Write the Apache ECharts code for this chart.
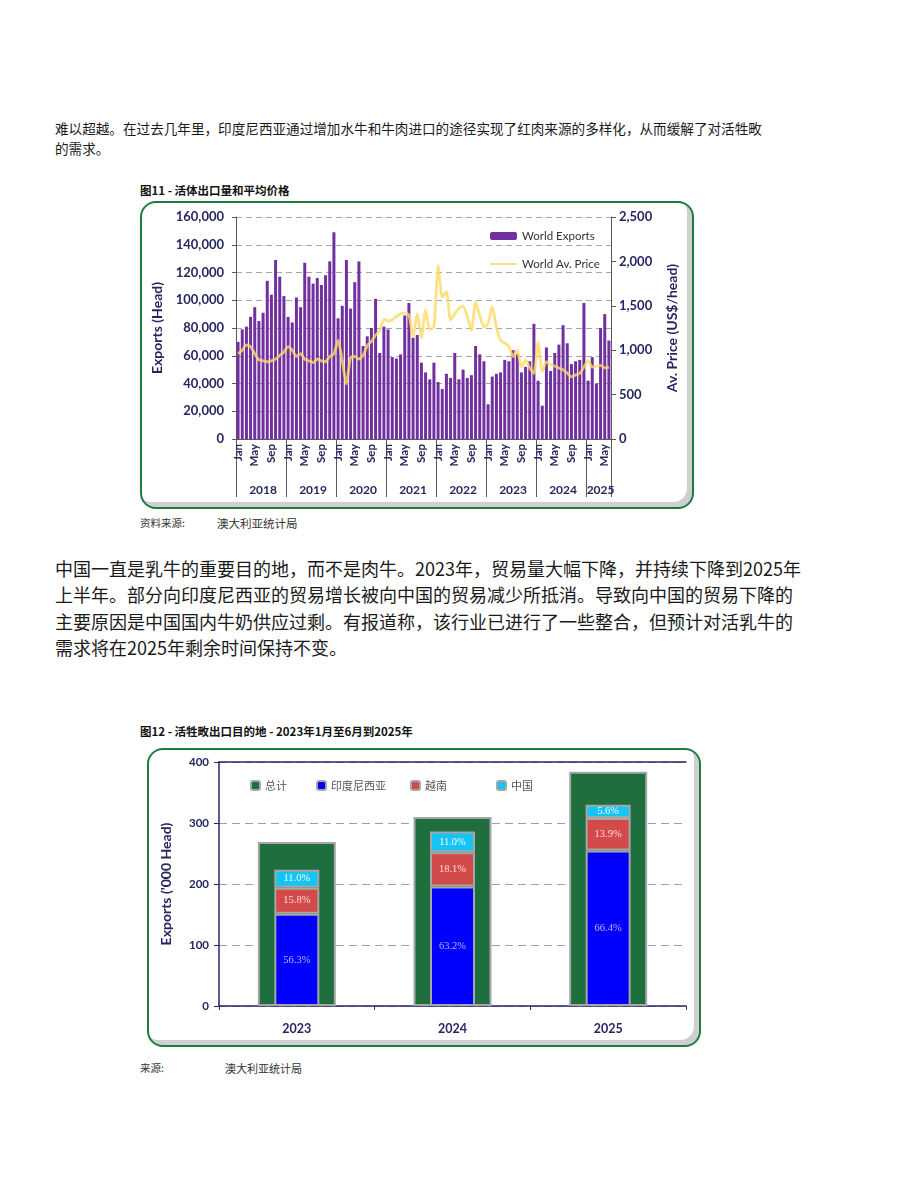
<!DOCTYPE html>
<html>
<head>
<meta charset="utf-8">
<script src="https://cdn.jsdelivr.net/npm/echarts@6/dist/echarts.min.js"></script>
<style>
  body { margin: 0; background: #fff; width: 920px; height: 1191px; position: relative; font-family: "Noto Sans CJK SC", sans-serif; color: #1a1a1a; }
  .abs { position: absolute; white-space: nowrap; }
  .p1 { font-size: 13.6px; line-height: 20px; }
  .p2 { font-size: 18px; line-height: 26.3px; }
  .ttl { font-size: 11.5px; font-weight: bold; color: #111; }
  .src { font-size: 10.5px; color: #333; }
  .box { position: absolute; box-sizing: border-box; border: 2px solid #1f7a3f; border-radius: 16px;
         box-shadow: inset -5px -5px 0 #cfcfcf; background: #fff; }
  .box > div { position: absolute; left: 0; top: 0; width: 100%; height: 100%; }
</style>
</head>
<body>
<div class="abs p1" style="left:55px;top:118px;">难以超越。在过去几年里，印度尼西亚通过增加水牛和牛肉进口的途径实现了红肉来源的多样化，从而缓解了对活牲畋<br>的需求。</div>

<div class="abs ttl" style="left:140px;top:182px;">图11 - 活体出口量和平均价格</div>
<div class="box" style="left:140px;top:201px;width:554px;height:308px;"><div id="chart1"></div></div>
<div class="abs src" style="left:140px;top:515px;">资料来源:</div>
<div class="abs src" style="left:217px;top:515px;font-size:11.5px;">澳大利亚统计局</div>

<div class="abs p2" style="left:55px;top:555px;">中国一直是乳牛的重要目的地，而不是肉牛。2023年，贸易量大幅下降，并持续下降到2025年<br>上半年。部分向印度尼西亚的贸易增长被向中国的贸易减少所抵消。导致向中国的贸易下降的<br>主要原因是中国国内牛奶供应过剩。有报道称，该行业已进行了一些整合，但预计对活乳牛的<br>需求将在2025年剩余时间保持不变。</div>

<div class="abs ttl" style="left:140px;top:723px;">图12 - 活牲畋出口目的地 - 2023年1月至6月到2025年</div>
<div class="box" style="left:147px;top:748px;width:554px;height:299px;"><div id="chart2"></div></div>
<div class="abs src" style="left:140px;top:1060px;">来源:</div>
<div class="abs src" style="left:225px;top:1060px;font-size:11px;">澳大利亚统计局</div>

<script>
// ---- 图11 data ----
var years = ['2018', '2019', '2020', '2021', '2022', '2023', '2024', '2025'];
var monthNames = ['Jan', 'Feb', 'Mar', 'Apr', 'May', 'Jun', 'Jul', 'Aug', 'Sep', 'Oct', 'Nov', 'Dec'];

var exp2018 = [70000, 79000, 81000, 88000, 95000, 85000, 91000, 114000, 104000, 129000, 117000, 103000];
var exp2019 = [88000, 84000, 102000, 95000, 127000, 117000, 112000, 116000, 111000, 118000, 128000, 149000];
var exp2020 = [87000, 96000, 129000, 94000, 113000, 128000, 67000, 74000, 80000, 101000, 62000, 81000];
var exp2021 = [79000, 59000, 58000, 61000, 89000, 98000, 73000, 75000, 55000, 48000, 43000, 55000];
var exp2022 = [41000, 36000, 47000, 44000, 62000, 43000, 50000, 44000, 46000, 67000, 61000, 56000];
var exp2023 = [25000, 45000, 47000, 48000, 57000, 56000, 64000, 61000, 48000, 52000, 56000, 83000];
var exp2024 = [42000, 24000, 66000, 49000, 62000, 68000, 82000, 69000, 54000, 56000, 57000, 98000];
var exp2025 = [42000, 59000, 40000, 80000, 90000, 71000];

var price2018 = [960, 1000, 1060, 1040, 960, 890, 880, 870, 880, 900, 940, 980];
var price2019 = [1040, 1000, 930, 960, 900, 880, 860, 900, 880, 870, 930, 960];
var price2020 = [1110, 880, 620, 920, 930, 900, 940, 1050, 1100, 1170, 1220, 1350];
var price2021 = [1330, 1340, 1380, 1410, 1420, 1400, 1150, 1410, 1140, 1450, 1230, 1260];
var price2022 = [1950, 1600, 1660, 1340, 1410, 1470, 1500, 1380, 1220, 1540, 1390, 1260];
var price2023 = [1300, 1490, 1260, 1110, 1080, 1040, 930, 1000, 810, 890, 800, 740];
var price2024 = [1090, 760, 870, 840, 820, 800, 780, 740, 700, 720, 740, 810];
var price2025 = [880, 810, 820, 830, 800, 810];

var exportsAll = [].concat(exp2018, exp2019, exp2020, exp2021, exp2022, exp2023, exp2024, exp2025);
var priceAll = [].concat(price2018, price2019, price2020, price2021, price2022, price2023, price2024, price2025);
var yearLens = [12, 12, 12, 12, 12, 12, 12, 6];

// category lists built from the arrays above
var monthCats = [];
var yearCats = [];
var yearMid = {};
var idx = 0;
years.forEach(function (y, k) {
   yearMid[idx + Math.floor(yearLens[k] / 2)] = true;
   for (var m = 0; m < yearLens[k]; m++) {
      monthCats.push(monthNames[m]);
      yearCats.push(y);
      idx++;
   }
});

// ---- 图12 data ----
var destYears = ['2023', '2024', '2025'];
var totalExports = [269, 310, 384];
var indonesia = [151.4, 196, 255];
var vietnam = [42.5, 56.1, 53.4];
var china = [29.6, 34.1, 21.5];
var indonesiaPct = ['56.3%', '63.2%', '66.4%'];
var vietnamPct = ['15.8%', '18.1%', '13.9%'];
var chinaPct = ['11.0%', '11.0%', '5.6%'];

var navy = '#262660';
var latoBold = { fontFamily: 'Lato', fontWeight: 'bold', color: navy };

var chart1 = echarts.init(document.getElementById('chart1'));
chart1.setOption({
   animation: false,
   grid: { left: 94, right: 81, top: 14, bottom: 68 },
   legend: {
      orient: 'vertical',
      left: 342, top: 22,
      itemWidth: 27, itemHeight: 8, itemGap: 16,
      textStyle: { fontFamily: 'Lato', fontSize: 11.5, color: '#333' },
      data: [
         { name: 'World Exports' },
         { name: 'World Av. Price', itemStyle: { opacity: 0 } }
      ]
   },
   xAxis: [
      {
         type: 'category',
         data: monthCats,
         axisLine: { lineStyle: { color: '#595959' } },
         axisTick: {
            show: true,
            length: 58,
            lineStyle: { color: '#595959' },
            interval: function (i) { return i % 12 === 0; }
         },
         axisLabel: Object.assign({
            rotate: 90, fontSize: 11.5, margin: 5,
            interval: function (i) { return i % 4 === 0; }
         }, latoBold)
      },
      {
         type: 'category',
         data: yearCats,
         position: 'bottom',
         offset: 42,
         axisLine: { show: false },
         axisTick: { show: false },
         axisLabel: Object.assign({
            fontSize: 12, margin: 3,
            interval: function (i) { return !!yearMid[i]; }
         }, latoBold)
      }
   ],
   yAxis: [
      {
         type: 'value', min: 0, max: 160000, interval: 20000,
         name: 'Exports (Head)', nameLocation: 'middle', nameRotate: 90, nameGap: 72,
         nameTextStyle: Object.assign({ fontSize: 14 }, latoBold),
         axisLine: { show: true, lineStyle: { color: '#595959' } },
         axisTick: { show: true, length: 4, lineStyle: { color: '#595959' } },
         axisLabel: Object.assign({
            fontSize: 13, margin: 12,
            formatter: function (v) { return v.toLocaleString('en-US'); }
         }, latoBold),
         splitLine: { lineStyle: { color: '#a6a6a6', type: [6, 4] } }
      },
      {
         type: 'value', min: 0, max: 2500, interval: 500, position: 'right',
         name: 'Av. Price (US$/head)', nameLocation: 'middle', nameRotate: 90, nameGap: 54,
         nameTextStyle: Object.assign({ fontSize: 14 }, latoBold),
         axisLine: { show: true, lineStyle: { color: '#595959' } },
         axisTick: { show: true, length: 5, lineStyle: { color: '#595959' } },
         axisLabel: Object.assign({
            fontSize: 13, margin: 8,
            formatter: function (v) { return v.toLocaleString('en-US'); }
         }, latoBold),
         splitLine: { show: false }
      }
   ],
   series: [
      {
         name: 'World Exports',
         type: 'bar',
         data: exportsAll,
         barCategoryGap: '28%',
         itemStyle: { color: '#7030a0' }
      },
      {
         name: 'World Av. Price',
         type: 'line',
         yAxisIndex: 1,
         data: priceAll,
         symbol: 'none',
         smooth: 0.2,
         lineStyle: { color: '#ffd966', width: 2.8, opacity: 0.8 },
         itemStyle: { color: '#ffd966' }
      }
   ]
});

var chart2 = echarts.init(document.getElementById('chart2'));
var legendBase = {
   top: 25, itemWidth: 9, itemHeight: 9,
   textStyle: { fontFamily: 'Noto Sans CJK SC', fontSize: 11, color: '#555' }
};
var segLabel = function (texts, color) {
   return {
      show: true, position: 'inside', color: color,
      fontFamily: 'Liberation Serif', fontSize: 10.5,
      formatter: function (p) { return texts[p.dataIndex]; }
   };
};
var segBorder = { borderColor: '#a6a6a6', borderWidth: 2 };
chart2.setOption({
   animation: false,
   grid: { left: 70, right: 13, top: 12, bottom: 39 },
   legend: [
      Object.assign({ left: 96, data: ['总计'] }, legendBase),
      Object.assign({ left: 162, data: ['印度尼西亚'] }, legendBase),
      Object.assign({ left: 256, data: ['越南'] }, legendBase),
      Object.assign({ left: 342, data: ['中国'] }, legendBase)
   ],
   xAxis: [
      {
         type: 'category', data: destYears,
         axisLine: { lineStyle: { color: navy, width: 1.5 } },
         axisTick: { show: true, length: 4, lineStyle: { color: navy } },
         axisLabel: Object.assign({ fontSize: 12.5, margin: 16 }, latoBold)
      },
      {
         type: 'category', data: destYears, position: 'top',
         axisLine: { lineStyle: { color: navy, width: 1.5 } },
         axisTick: { show: false },
         axisLabel: { show: false }
      }
   ],
   yAxis: {
      type: 'value', min: 0, max: 400, interval: 100,
      name: "Exports ('000 Head)", nameLocation: 'middle', nameRotate: 90, nameGap: 46,
      nameTextStyle: Object.assign({ fontSize: 14 }, latoBold),
      axisLine: { show: true, lineStyle: { color: navy, width: 1.5 } },
      axisTick: { show: true, length: 5, lineStyle: { color: navy } },
      axisLabel: Object.assign({ fontSize: 11.5, margin: 10 }, latoBold),
      splitLine: { lineStyle: { color: '#9d9dc4', width: 1.2, type: [8, 5] } }
   },
   series: [
      {
         name: '总计', type: 'bar', xAxisIndex: 0, data: totalExports, barWidth: 78,
         itemStyle: Object.assign({ color: '#1e6e3e' }, segBorder)
      },
      {
         name: '印度尼西亚', type: 'bar', xAxisIndex: 1, stack: 'dest', data: indonesia, barWidth: 45,
         itemStyle: Object.assign({ color: '#0000ff' }, segBorder),
         label: segLabel(indonesiaPct, '#b4b4ff')
      },
      {
         name: '越南', type: 'bar', xAxisIndex: 1, stack: 'dest', data: vietnam, barWidth: 45,
         itemStyle: Object.assign({ color: '#d24a4a' }, segBorder),
         label: segLabel(vietnamPct, '#ffdada')
      },
      {
         name: '中国', type: 'bar', xAxisIndex: 1, stack: 'dest', data: china, barWidth: 45,
         itemStyle: Object.assign({ color: '#14c4f4' }, segBorder),
         label: segLabel(chinaPct, '#f4fbff')
      }
   ]
});
</script>
</body>
</html>
